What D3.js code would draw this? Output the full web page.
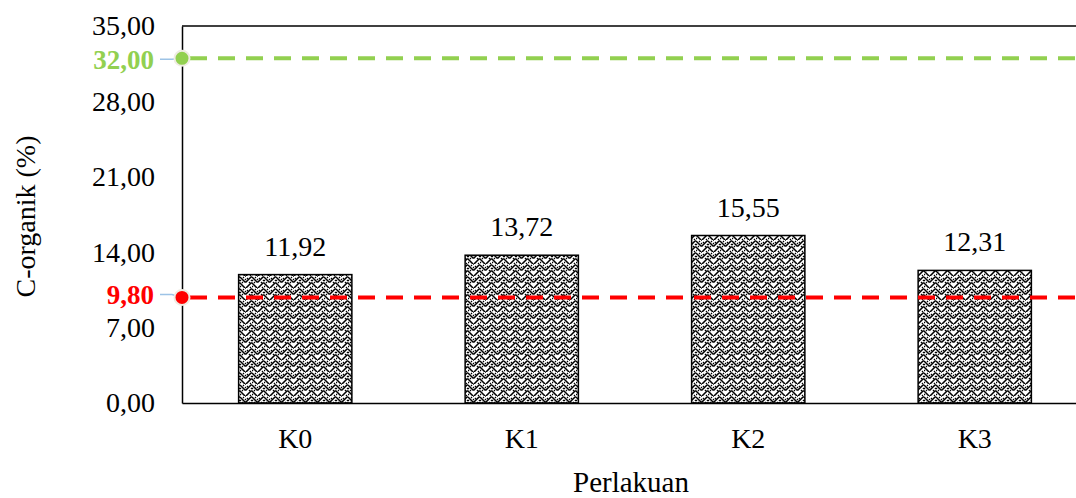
<!DOCTYPE html>
<html>
<head>
<meta charset="utf-8">
<script src="https://cdn.jsdelivr.net/npm/d3@7"></script>
<style>
  body { margin: 0; background: #fff; }
  svg { display: block; font-family: "Liberation Serif", "Times New Roman", serif; }
</style>
</head>
<body>
<svg id="chart"></svg>
<script>
// Chart data
const categories = ['K0', 'K1', 'K2', 'K3'];
const values = [11.92, 13.72, 15.55, 12.31];
const yTicks = [0, 7, 14, 21, 28, 35];
const refLines = [
  { value: 32.00, label: '32,00', color: '#92D050', labelOffset: 1 },
  { value: 9.80, label: '9,80', color: '#FF0000', labelOffset: -3 }
];

const width = 1076;
const height = 498;
const margin = { top: 26, right: -12, bottom: 95, left: 182 };
const fontSize = 28;

const fmt = v => v.toFixed(2).replace('.', ',');

const svg = d3.select('#chart')
  .attr('width', width)
  .attr('height', height);

// Woven fill for the bars
const defs = svg.append('defs');
const pat = defs.append('pattern')
  .attr('id', 'weave')
  .attr('patternUnits', 'userSpaceOnUse')
  .attr('width', 12)
  .attr('height', 12);
pat.append('rect').attr('width', 12).attr('height', 12).attr('fill', '#fff');
// solid chevrons
pat.append('path')
  .attr('d', 'M0,1 L5,6 L6,6 L11,1 L12,1 M-1,7 L0,7 L5,12 M6,12 L11,7 L13,7 M5,0 L6,0')
  .attr('stroke', '#000')
  .attr('stroke-width', 1.5)
  .attr('fill', 'none');
// dotted chevrons in between
pat.append('path')
  .attr('d', 'M0,4 L3,7 M9,7 L12,4 M3,1 L6,4 L9,1 M0,10 L2,12 M10,12 L12,10')
  .attr('stroke', '#000')
  .attr('stroke-width', 1.3)
  .attr('stroke-dasharray', '1.4 1.4')
  .attr('fill', 'none');

const x = d3.scaleBand()
  .domain(categories)
  .range([margin.left, width - margin.right])
  .paddingInner(0.5)
  .paddingOuter(0.25);

const y = d3.scaleLinear()
  .domain([0, 35])
  .range([height - margin.bottom, margin.top]);

// Bars
svg.append('g')
  .selectAll('rect')
  .data(values)
  .join('rect')
  .attr('x', (d, i) => x(categories[i]))
  .attr('y', d => y(d))
  .attr('width', x.bandwidth())
  .attr('height', d => y(0) - y(d))
  .attr('fill', 'url(#weave)')
  .attr('stroke', '#000')
  .attr('stroke-width', 1.5);

// Value labels
svg.append('g')
  .selectAll('text')
  .data(values)
  .join('text')
  .attr('x', (d, i) => x(categories[i]) + x.bandwidth() / 2)
  .attr('y', d => y(d) - 19)
  .attr('text-anchor', 'middle')
  .attr('font-size', fontSize)
  .attr('fill', '#000')
  .text(d => fmt(d));

// Axes
const yAxis = svg.append('g')
  .attr('transform', `translate(${margin.left},0)`)
  .call(d3.axisLeft(y).tickValues(yTicks).tickSize(0).tickPadding(27).tickFormat(fmt))
  .attr('font-family', null)
  .attr('font-size', fontSize);
yAxis.select('.domain').attr('stroke', '#000').attr('stroke-width', 1.5);
yAxis.selectAll('text').attr('fill', '#000');

const xAxis = svg.append('g')
  .attr('transform', `translate(0,${y(0)})`)
  .call(d3.axisBottom(x).tickSize(0).tickPadding(25))
  .attr('font-family', null)
  .attr('font-size', fontSize);
xAxis.select('.domain').attr('stroke', '#000').attr('stroke-width', 1.5);
xAxis.selectAll('text').attr('fill', '#000');

// Top frame line
svg.append('line')
  .attr('x1', margin.left).attr('x2', width)
  .attr('y1', y(35)).attr('y2', y(35))
  .attr('stroke', '#000').attr('stroke-width', 1.5);

// Reference lines with markers and labels
const refG = svg.append('g');
refLines.forEach(r => {
  const yy = y(r.value);
  const ly = yy + r.labelOffset;
  refG.append('line')
    .attr('x1', margin.left + 8).attr('x2', width)
    .attr('y1', yy).attr('y2', yy)
    .attr('stroke', r.color)
    .attr('stroke-width', 4)
    .attr('stroke-dasharray', '17 11');
  refG.append('path')
    .attr('d', `M${margin.left - 22},${ly} L${margin.left - 10},${ly} L${margin.left},${yy}`)
    .attr('stroke', '#9DC3E6')
    .attr('stroke-width', 1.5)
    .attr('fill', 'none');
  refG.append('circle')
    .attr('cx', margin.left).attr('cy', yy)
    .attr('r', 7.5)
    .attr('fill', r.color)
    .attr('stroke', '#efece3')
    .attr('stroke-width', 2);
  refG.append('text')
    .attr('x', margin.left - 28)
    .attr('y', ly)
    .attr('dy', '0.35em')
    .attr('text-anchor', 'end')
    .attr('font-size', 27)
    .attr('font-weight', 'bold')
    .attr('fill', r.color)
    .text(r.label);
});

// Axis titles
svg.append('text')
  .attr('x', (margin.left + width - margin.right) / 2 - 4)
  .attr('y', 492)
  .attr('text-anchor', 'middle')
  .attr('font-size', 29)
  .text('Perlakuan');

svg.append('text')
  .attr('transform', `translate(35,${(y(0) + y(35)) / 2 + 2}) rotate(-90)`)
  .attr('text-anchor', 'middle')
  .attr('font-size', 28)
  .text('C-organik (%)');
</script>
</body>
</html>
